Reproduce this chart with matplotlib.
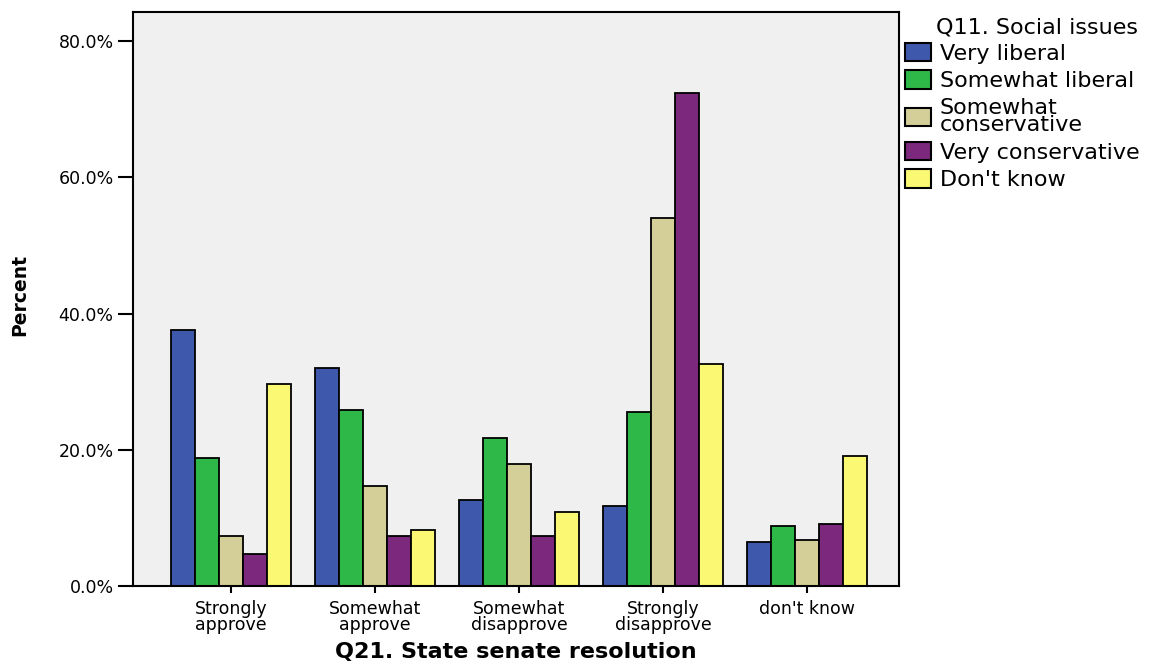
import numpy as np
import matplotlib
matplotlib.use("Agg")
import matplotlib.pyplot as plt
from matplotlib.ticker import FuncFormatter

# categories on the x axis
categories = ["Strongly\napprove", "Somewhat\napprove", "Somewhat\ndisapprove",
              "Strongly\ndisapprove", "don't know"]

# Q11 groups (legend) and percent values per category
groups = ["Very liberal", "Somewhat liberal", "Somewhat\nconservative",
          "Very conservative", "Don't know"]
very_liberal = [37.6, 32.0, 12.6, 11.8, 6.4]
somewhat_liberal = [18.8, 25.9, 21.8, 25.6, 8.8]
somewhat_conservative = [7.3, 14.7, 17.9, 54.1, 6.8]
very_conservative = [4.7, 7.3, 7.3, 72.4, 9.1]
dont_know = [29.7, 8.3, 10.9, 32.6, 19.1]

yticks = [0, 20, 40, 60, 80]
colors = ["#3e58ac", "#2eb848", "#d4cf98", "#7b287d", "#fbf873"]

series = [very_liberal, somewhat_liberal, somewhat_conservative,
          very_conservative, dont_know]

fig = plt.figure(figsize=(11.56, 6.67), dpi=100)
ax = fig.add_axes([0.1151, 0.1214, 0.6626, 0.8606])
ax.set_facecolor("#f0f0f0")

x = np.arange(len(categories))
width = 0.167
for i, vals in enumerate(series):
    ax.bar(x + (i - 2) * width, vals, width, color=colors[i],
           edgecolor="black", linewidth=1.3, label=groups[i], zorder=2)

ax.set_xlim(-0.68, 4.64)
ax.set_ylim(0, 84.3)
ax.set_yticks(yticks)
ax.yaxis.set_major_formatter(FuncFormatter(lambda v, p: f"{v:.1f}%"))
ax.set_xticks(x)
ax.set_xticklabels(categories, fontsize=12.5, linespacing=0.85)
ax.tick_params(axis="y", labelsize=12.5, length=11, width=1.5, pad=3)
ax.tick_params(axis="x", length=5, width=1.5, pad=5)

for s in ax.spines.values():
    s.set_linewidth(1.5)

ax.set_xlabel("Q21. State senate resolution", fontsize=16, fontweight="bold")
ax.xaxis.set_label_coords(0.5, -(642 - 586) / 574)
fig.text(20 / 1156, 1 - 295 / 667, "Percent", rotation=90, ha="center",
         va="center", fontsize=13.5, fontweight="bold")

# legend title drawn separately so it sits right of the swatches
fig.text(936 / 1156, 1 - 34 / 667, "Q11. Social issues", fontsize=16,
         va="baseline", ha="left")
leg = ax.legend(loc="upper left", bbox_to_anchor=(905 / 1156, 1 - 43 / 667),
                bbox_transform=fig.transFigure, frameon=False, fontsize=16,
                handlelength=1.17, handleheight=0.9, handletextpad=0.4,
                labelspacing=0.29, borderaxespad=0, borderpad=0)
for t in leg.get_texts():
    t.set_linespacing(0.86)
for h in leg.legend_handles:
    h.set_linewidth(1.5)

fig.savefig("out.png", dpi=100)
